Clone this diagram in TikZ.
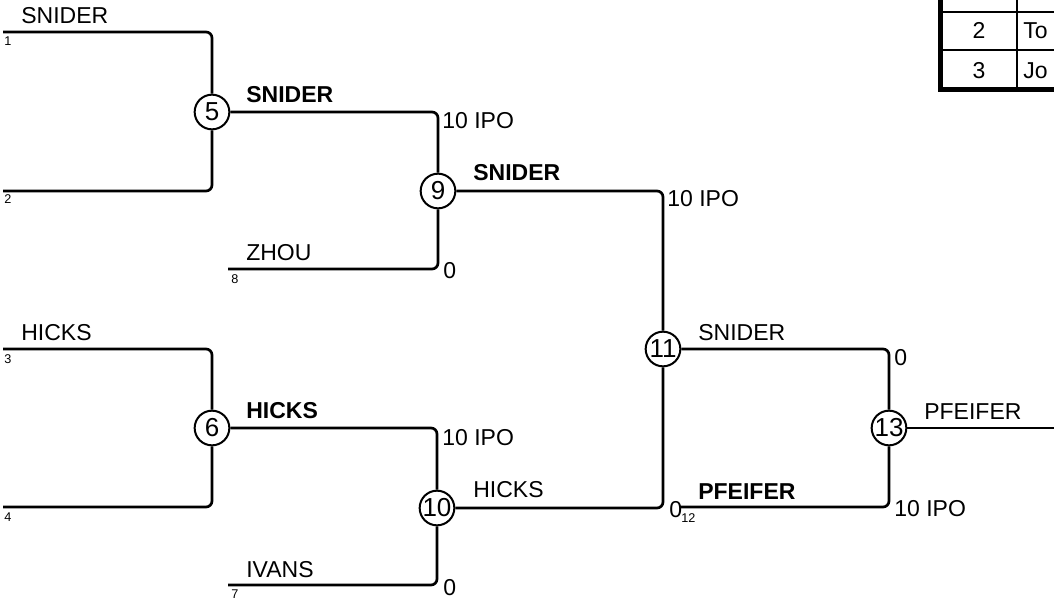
\documentclass[tikz,border=0pt]{standalone}
\usepackage{fontspec}
\setmainfont{Liberation Sans}
\usetikzlibrary{positioning}
\usetikzlibrary{calc}

\begin{document}
\begin{tikzpicture}[
            x = 0.75pt, y = 0.75pt, % one unit per pixel
            line width = 2pt, % bracket line style
            rounded corners = 4.5pt
        ]

        \tikzstyle{game}=[
            draw,
            circle,
            line width = 1.5pt,
            fill = white,
            minimum size = 26pt,
            inner sep = 0pt,
            font = \fontsize{19.5}{20}\selectfont
        ]
        \tikzstyle{player}=[inner sep = 0pt, anchor = base west, font = \fontsize{17.25}{20}\selectfont]
        \tikzstyle{winner}=[player, font = \fontsize{17.25}{20}\selectfont\bfseries]
        \tikzstyle{slot}=[inner sep = 0pt, anchor = base west, font = \fontsize{9.5}{10}\selectfont]

        \useasboundingbox (0,0) rectangle (1054,-600);
        \clip (0,0) rectangle (1054,-600);

	% entrants
        \coordinate (e1) at (3,-32);
        \coordinate (e2) at (3,-191);
        \coordinate (e3) at (3,-349);
        \coordinate (e4) at (3,-507);
        \coordinate (e8) at (228,-269);
        \coordinate (e7) at (228,-585);
        \coordinate (e12) at (680,-507);
        \coordinate (champ) at (1054,-428);

        % games
        \node[game] (g5) at (212,-112) {5};
        \node[game] (g6) at (212,-428) {6};
        \node[game] (g9) at (438,-191) {9};
        \node[game] (g10) at (437,-508) {10};
        \node[game] (g11) at (663,-349) {11};
        \node[game] (g13) at (889,-428) {13};

        % first round
        \draw (e1) -| (g5);
        \draw (e2) -| (g5);
        \draw (e3) -| (g6);
        \draw (e4) -| (g6);
        \node[player] (n1) at (20,-23) {SNIDER};
        \node[slot] (s1) at (3,-45) {1};
        \node[slot] (s2) at (3,-203) {2};
        \node[player] (n3) at (20,-340) {HICKS};
        \node[slot] (s3) at (3,-363) {3};
        \node[slot] (s4) at (3,-521) {4};

        % second round
        \draw (g5) -| (g9);
        \draw (e8) -| (g9);
        \draw (g6) -| (g10);
        \draw (e7) -| (g10);
        \node[winner] (w5) at (245,-102) {SNIDER};
        \node[player] (p5) at (441,-128) {10 IPO};
        \node[player] (n8) at (245,-260) {ZHOU};
        \node[slot] (s8) at (230,-283) {8};
        \node[player] (p8) at (442,-278) {0};
        \node[winner] (w6) at (245,-418) {HICKS};
        \node[player] (p6) at (441,-445) {10 IPO};
        \node[player] (n7) at (245,-577) {IVANS};
        \node[slot] (s7) at (230,-598) {7};
        \node[player] (p7) at (442,-595) {0};

        % third round
        \draw (g9) -| (g11);
        \draw (g10) -| (g11);
        \node[winner] (w9) at (472,-180) {SNIDER};
        \node[player] (p9) at (666,-206) {10 IPO};
        \node[player] (w10) at (472,-497) {HICKS};
        \node[player] (p10) at (668,-517) {0};

        % final
        \draw (g11) -| (g13);
        \draw (e12) -| (g13);
        \draw (g13) -- (champ);
        \node[player] (w11) at (697,-340) {SNIDER};
        \node[player] (p11) at (893,-365) {0};
        \node[slot] (s12) at (680,-522) {12};
        \node[winner] (n12) at (697,-499) {PFEIFER};
        \node[player] (p12) at (893,-516) {10 IPO};
        \node[player] (w13) at (923,-419) {PFEIFER};

        % seeding table
        \begin{scope}[sharp corners]
         \draw[line width = 1.5pt] (940,-12) -- (1060,-12);
         \draw[line width = 1.5pt] (940,-50) -- (1060,-50);
         \draw[line width = 1.5pt] (1017,10) -- (1017,-89);
         \draw[line width = 3.75pt] (940.5,10) |- (1060,-89.5);
         \node[player, anchor = base] (r2) at (979,-38) {2};
         \node[player] (r2t) at (1022,-38) {To};
         \node[player, anchor = base] (r3) at (979,-78) {3};
         \node[player] (r3t) at (1022,-78) {Jo};
        \end{scope}

  \end{tikzpicture}
\end{document}
